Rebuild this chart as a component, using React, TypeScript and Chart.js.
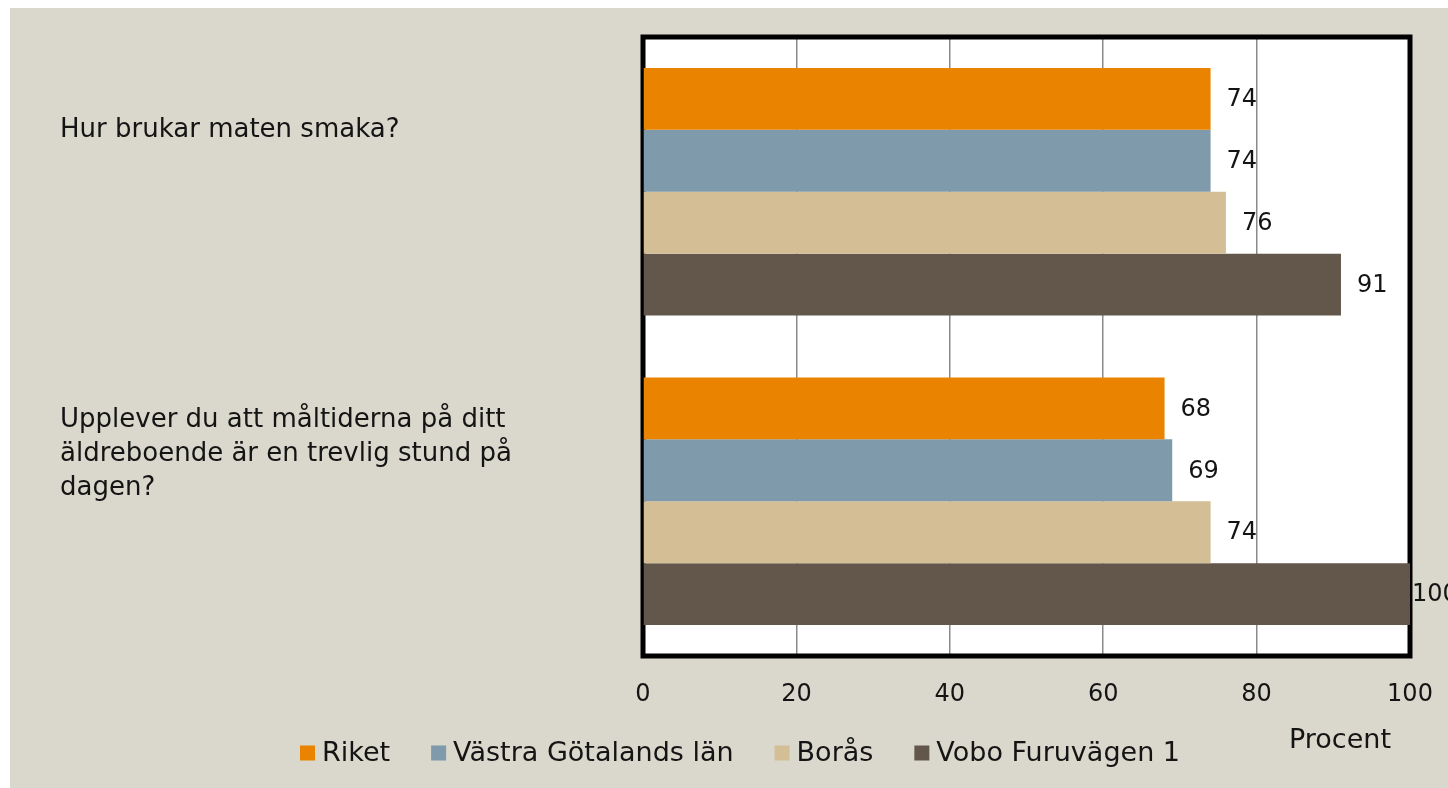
import React, { useEffect, useRef } from "react";
import { Chart, registerables } from "chart.js";

Chart.register(...registerables);

const categories: string[][] = [
  ["Hur brukar maten smaka?"],
  ["Upplever du att måltiderna på ditt", "äldreboende är en trevlig stund på", "dagen?"],
];
const seriesNames = ["Riket", "Västra Götalands län", "Borås", "Vobo Furuvägen 1"];
const riket = [74, 68];
const vastraGotaland = [74, 69];
const boras = [76, 74];
const voboFuruvagen = [91, 100];
const xMin = 0;
const xMax = 100;
const xStep = 20;
const axisTitle = "Procent";

const seriesColors = ["#E98300", "#7E9AAB", "#D3BE95", "#63564A"];
const BG = "#DAD8CC";
const TEXT = "#141414";
const FONT = "'DejaVu Sans', sans-serif";

export default function App() {
  const ref = useRef<HTMLCanvasElement | null>(null);

  useEffect(() => {
    document.body.style.margin = "0";
    document.documentElement.style.overflow = "hidden";
    const canvas = ref.current;
    if (!canvas) return;

    const decor = {
      id: "decor",
      beforeDraw(chart: any) {
        const { ctx, chartArea: a } = chart;
        ctx.save();
        ctx.fillStyle = BG;
        ctx.fillRect(0, 0, chart.width, chart.height);
        ctx.fillStyle = "#FFFFFF";
        ctx.fillRect(a.left, a.top, a.right - a.left, a.bottom - a.top);
        ctx.restore();
      },
      beforeDatasetsDraw(chart: any) {
        const { ctx, chartArea: a } = chart;
        ctx.save();
        ctx.strokeStyle = "#000000";
        ctx.lineWidth = 5;
        ctx.lineJoin = "miter";
        ctx.strokeRect(a.left, a.top, a.right - a.left, a.bottom - a.top);
        ctx.restore();
      },
      afterDatasetsDraw(chart: any) {
        const { ctx, chartArea: a } = chart;
        ctx.save();
        // data labels
        ctx.fillStyle = TEXT;
        ctx.font = `24px ${FONT}`;
        ctx.textAlign = "left";
        ctx.textBaseline = "middle";
        chart.data.datasets.forEach((ds: any, di: number) => {
          const meta = chart.getDatasetMeta(di);
          meta.data.forEach((el: any, i: number) => {
            const x = Math.min(el.x + 16, a.right + 2);
            ctx.fillText(String(ds.data[i]), x, el.y + 1);
          });
        });
        // category labels
        const yScale = chart.scales.y;
        ctx.font = `26px ${FONT}`;
        (chart.data.labels as string[][]).forEach((lines, i) => {
          const c = yScale.getPixelForValue(i);
          const first = c - 62 - 9.5 * (lines.length - 1);
          lines.forEach((ln, k) => {
            ctx.fillText(ln, 50, first + k * 34);
          });
        });
        // legend
        ctx.font = `27px ${FONT}`;
        const sq = 15;
        const gapT = 7;
        const gapI = 41;
        const widths = chart.data.datasets.map((ds: any) => ctx.measureText(ds.label).width);
        const total =
          widths.reduce((s: number, w: number) => s + sq + gapT + w, 0) + gapI * (widths.length - 1);
        let lx = 730 - total / 2;
        const ly = 745;
        chart.data.datasets.forEach((ds: any, di: number) => {
          ctx.fillStyle = ds.backgroundColor;
          ctx.fillRect(lx, ly - sq / 2, sq, sq);
          ctx.fillStyle = TEXT;
          ctx.fillText(ds.label, lx + sq + gapT, ly + 1);
          lx += sq + gapT + widths[di] + gapI;
        });
        // axis title
        ctx.textAlign = "center";
        ctx.fillText(axisTitle, a.right - 70, 733);
        ctx.restore();
      },
    };

    const seriesData = [riket, vastraGotaland, boras, voboFuruvagen];
    const chart = new Chart(canvas, {
      type: "bar",
      data: {
        labels: categories as any,
        datasets: seriesNames.map((name, i) => ({
          label: name,
          data: seriesData[i],
          backgroundColor: seriesColors[i],
          borderWidth: 0,
          categoryPercentage: 0.8,
          barPercentage: 1.0,
        })),
      },
      options: {
        indexAxis: "y",
        animation: false,
        responsive: false,
        maintainAspectRatio: false,
        devicePixelRatio: 1,
        layout: { padding: { left: 633, right: 38, top: 29, bottom: 72 } },
        plugins: {
          legend: { display: false },
          tooltip: { enabled: false },
        },
        scales: {
          y: { display: false, type: "category" },
          x: {
            type: "linear",
            position: "bottom",
            min: xMin,
            max: xMax,
            border: { display: false },
            grid: { color: "#8A8A8A", lineWidth: 1.5, drawTicks: false },
            ticks: {
              stepSize: xStep,
              padding: 24,
              color: TEXT,
              font: { family: "DejaVu Sans", size: 24 },
              maxRotation: 0,
            },
            afterFit(scale: any) {
              scale.height = 60;
              scale.paddingLeft = 0;
              scale.paddingRight = 0;
            },
          },
        },
      } as any,
      plugins: [decor],
    });
    return () => chart.destroy();
  }, []);

  return (
    <div style={{ position: "absolute", left: 10, top: 8, width: 1438, height: 780 }}>
      <canvas ref={ref} width={1438} height={780} style={{ width: 1438, height: 780, display: "block" }} />
    </div>
  );
}
